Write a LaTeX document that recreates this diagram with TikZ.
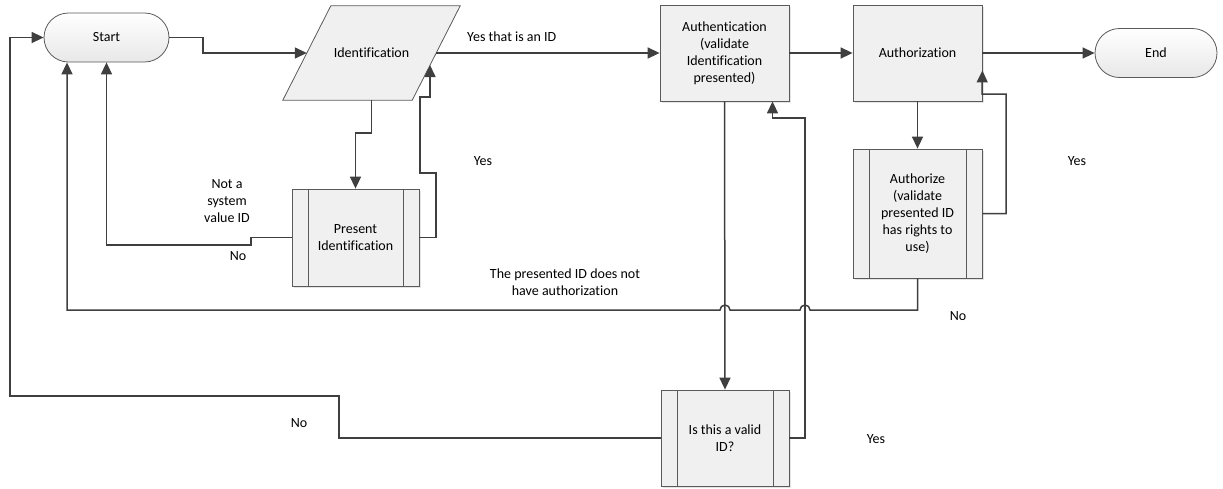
\documentclass[tikz,border=0pt]{standalone}
\usepackage{fontspec}
\setmainfont[Ligatures=NoCommon]{Carlito}
\usetikzlibrary{shapes.misc,arrows.meta,shadows,calc,backgrounds}
\definecolor{linec}{HTML}{3F3F3F}
\definecolor{edgec}{HTML}{5A5A5A}
\definecolor{boxfill}{HTML}{F0F0F0}
\tikzset{
  flow/.style={draw=linec, line width=1.5pt},
  arr/.style={flow, -{Triangle[length=12pt,width=11pt]}},
  shapebase/.style={draw=edgec, line width=0.8pt, align=center, inner sep=2pt,
    font=\fontsize{14pt}{17pt}\selectfont},
  terminal/.style={shapebase, rounded rectangle, top color=white, bottom color=black!9,
    minimum height=49pt},
  % text area of the input shape; its slanted outline is drawn behind it
  iotext/.style={align=center, inner sep=2pt, font=\fontsize{14pt}{17pt}\selectfont,
    minimum width=129pt, minimum height=94pt},
  ioedge/.style={draw=edgec, line width=0.8pt, fill=boxfill, line join=miter},
  procbox/.style={shapebase, rectangle, fill=boxfill, minimum width=129pt, minimum height=96pt,
    drop shadow={shadow xshift=2pt, shadow yshift=-2pt, opacity=0.25, fill=black!40}},
  subproc/.style={procbox,
    path picture={
      \draw[edgec, line width=0.8pt]
        ([xshift=16pt]path picture bounding box.north west) -- ([xshift=16pt]path picture bounding box.south west)
        ([xshift=-16pt]path picture bounding box.north east) -- ([xshift=-16pt]path picture bounding box.south east);
    }},
  lbl/.style={font=\fontsize{14pt}{17pt}\selectfont, align=center, inner sep=0pt}
}
\begin{document}
\begin{tikzpicture}[x=1pt, y=-1pt]
\useasboundingbox (0,0) rectangle (1223,488);

% shapes
\node[terminal, minimum width=129pt] (start) at (106.5,37.5) {Start};
\node[iotext] (ident) at (371.5,53) {Identification};
\begin{scope}[on background layer]
  \draw[ioedge] ([xshift=-24pt]ident.south west) coordinate (identBL)
    -- ([xshift=-24pt]ident.south east) coordinate (identBR)
    -- ([xshift=24pt]ident.north east) coordinate (identTR)
    -- ([xshift=24pt]ident.north west) -- cycle;
\end{scope}
\node[procbox] (authn) at (724.5,53) {Authentication\\(validate\\Identification\\presented)};
\node[procbox] (authz) at (917.5,53) {Authorization};
\node[terminal, minimum width=126pt] (end) at (1156,53) {End};
\node[subproc, minimum width=127pt, minimum height=97pt] (present) at (355.5,237.5) {Present\\Identification};
\node[subproc, minimum height=129pt] (authorize) at (917.5,213.5) {Authorize\\(validate\\presented ID\\has rights to\\use)};
\node[subproc, minimum width=128pt] (valid) at (725,438) {Is this a valid\\ID?};

% point on the right side of the input shape
\coordinate (identR) at ($(identBR)!0.372!(identTR)$);

% main line
\draw[arr] (start.east) -- (203,37.5) |- (ident.west);
\draw[arr] (ident.east) -- (authn.west);
\draw[arr] (authn.east) -- (authz.west);
\draw[arr] (authz.east) -- (end.west);

% identification loop
\draw[arr] (ident.south) |- (355.5,133) -- (present.north);
\draw[arr] (present.east) -- (436,237.5) -- (436,173) -- (420,173) -- (420,97) -| (identR);
\draw[arr] (present.west) -- (251,237.5) |- (106.5,245) -- (start.south);

% authentication loop
\draw[arr] (authn.south) -- (valid.north);
\draw[arr] (valid.east) -| (805,118) -- (772.5,118) -- ([xshift=48pt]authn.south);
\draw[arr] (valid.west) -- (339,438) -- (339,396) -- (10,396) |- (start.west);

% authorization loop
\draw[arr] (authz.south) -- (authorize.north);
\draw[arr] (authorize.east) -| (1006,94) -- (982,94) -- ([yshift=31pt]authz.south east);
\draw[arr] (authorize.south) -- (917.5,310) -- (810,310)
  arc[start angle=0, end angle=180, radius=5pt] -- (730,310)
  arc[start angle=0, end angle=180, radius=5pt] -- (67,310)
  -- ([xshift=-39.5pt]start.south);

% labels
\node[lbl, anchor=west] (lyesid) at (467,37) {Yes that is an ID};
\node[lbl] (lyes1) at (483,161) {Yes};
\node[lbl] (lnotsys) at (227,201) {Not a\\system\\value ID};
\node[lbl] (lno1) at (238,256) {No};
\node[lbl] (lnoauth) at (565,282) {The presented ID does not\\have authorization};
\node[lbl] (lno2) at (958,316) {No};
\node[lbl] (lyes2) at (1077,161) {Yes};
\node[lbl] (lno3) at (299,423) {No};
\node[lbl] (lyes3) at (876,439) {Yes};
\end{tikzpicture}
\end{document}
